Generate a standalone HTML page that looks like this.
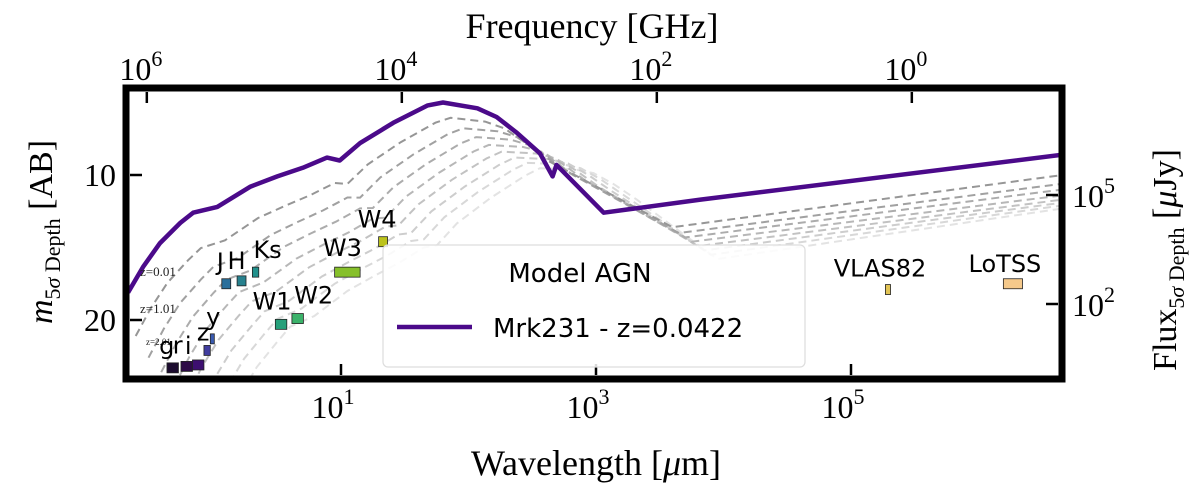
<!DOCTYPE html>
<html><head><meta charset="utf-8">
<style>
html,body{margin:0;padding:0;background:#fff;}
svg{display:block;}
.serif{font-family:"Liberation Serif","DejaVu Serif",serif;}
.sans{font-family:"DejaVu Sans","Liberation Sans",sans-serif;}
</style></head>
<body>
<svg id="chart" width="1200" height="502" viewBox="0 0 1200 502">
<defs><clipPath id="plotclip"><rect x="126" y="88" width="936" height="291"/></clipPath></defs>
<g id="grays" clip-path="url(#plotclip)"></g>
<g id="purple" clip-path="url(#plotclip)"></g>
<g id="zlabels" class="serif" font-size="13" fill="#222">
<text x="140" y="276">z=0.01</text>
<text x="140" y="313">z=1.01</text>
<text x="146" y="345" font-size="9">z=2.01</text>
</g>
<g id="filters"></g>
<rect x="126" y="88" width="936" height="291" fill="none" stroke="#000" stroke-width="7"/>
<g id="axes"></g>
<g>
<rect x="383" y="245" width="422" height="122" rx="5" fill="#fff" fill-opacity="0.85" stroke="#ddd" stroke-width="1.2"/>
<text x="580" y="282" text-anchor="middle" class="sans" font-size="26">Model AGN</text>
<line x1="397" y1="327" x2="472" y2="327" stroke="#4b0a8a" stroke-width="4.5"/>
<text x="493" y="337" class="sans" font-size="26">Mrk231 - z=0.0422</text>
</g>
<text x="592" y="38" text-anchor="middle" class="serif" font-size="36">Frequency [GHz]</text>
<text x="596" y="475" text-anchor="middle" class="serif" font-size="36">Wavelength [<tspan font-style="italic">μ</tspan>m]</text>
<text transform="translate(52,232) rotate(-90)" text-anchor="middle" class="serif" font-size="34"><tspan font-style="italic">m</tspan><tspan font-size="22" dy="8">5<tspan font-style="italic">σ</tspan> Depth</tspan><tspan dy="-8"> [AB]</tspan></text>
<text transform="translate(1176,260) rotate(-90)" text-anchor="middle" class="serif" font-size="34">Flux<tspan font-size="22" dy="8">5<tspan font-style="italic">σ</tspan> Depth</tspan><tspan dy="-8"> [<tspan font-style="italic">μ</tspan>Jy]</tspan></text>
</svg>
<script>
// ---- data ----
const sedLogLam = [-0.67,-0.55,-0.42,-0.26,-0.16,0.03,0.29,0.50,0.70,0.89,0.99,1.15,1.41,1.68,1.80,2.07,2.22,2.38,2.56,2.66,2.69,3.06,3.82,6.66];
const sedMag    = [18.1,16.3,14.7,13.3,12.6,12.2,10.8,10.1,9.5,8.8,9.0,7.8,6.4,5.2,5.0,5.4,6.0,7.1,8.5,10.1,9.3,12.6,11.7,8.6];
const grayShift = [0.06,0.16,0.26,0.36,0.46,0.56,0.66,0.76];
const grayDmLeft = [3.0,4.5,5.5,6.5,7.2,8.0,8.6,9.2];
const grayDmPeak = [0.5,1.0,1.5,1.9,2.3,2.6,2.9,3.2];
const grayKneeL = [3.6,3.65,3.7,3.75,3.8,3.85,3.9,3.95];
const grayKneeM = [13.6,14.0,14.3,14.6,14.9,15.2,15.5,15.8];
const grayTailM = [10.0,10.6,11.0,11.4,11.7,11.9,12.1,12.3];
const filterNames = ["g","r","i","z","y","J","H","Ks","W1","W2","W3","W4","VLAS82","LoTSS"];
const filterLogLam = [-0.32,-0.21,-0.12,-0.05,-0.01,0.10,0.22,0.33,0.53,0.66,1.05,1.33,5.29,6.27];
const filterMag = [23.3,23.2,23.1,22.1,21.3,17.5,17.3,16.7,20.3,19.9,16.7,14.6,17.9,17.5];
const filterColors = ["#1b0b2e","#2d0b46","#3d0f70","#413d9f","#3a5bb0","#2a6f9b","#27818e","#21918c","#25a07a","#3bb26a","#86c02a","#bcc31c","#e2c455","#f5c98b"];
const filterWidthDex = [0.09,0.09,0.09,0.05,0.03,0.07,0.07,0.05,0.09,0.09,0.2,0.07,0.04,0.15];
const botTicks = [1,3,5];
const topTicks = [6,4,2,0];
const leftTicks = [10,20];
const rightTicks = [5,2];

// ---- scales ----
const X = l => 341 + (l - 1) * 127.5;
const Y = m => 175 + (m - 10) * 14.5;
const ns = "http://www.w3.org/2000/svg";
function mk(tag, attrs, parent){const e=document.createElementNS(ns,tag);for(const k in attrs)e.setAttribute(k,attrs[k]);parent.appendChild(e);return e;}

// gray curves
const gG = document.getElementById('grays');
for(let i=grayShift.length-1;i>=0;i--){
  const pts=[];
  const n=19;
  for(let j=0;j<n;j++){
    const f=j/(n-1);
    const dm=grayDmLeft[i]*(1-f)+grayDmPeak[i]*f;
    pts.push([sedLogLam[j]+grayShift[i], sedMag[j]+dm]);
  }
  pts.push([grayKneeL[i], grayKneeM[i]]);
  pts.push([6.66, grayTailM[i]]);
  const d=pts.map((p,k)=>(k?'L':'M')+X(p[0]).toFixed(1)+','+Y(p[1]).toFixed(1)).join(' ');
  const c=Math.round(150+i*11);
  const p=mk('path',{d:d,fill:'none',stroke:`rgb(${c},${c},${c})`,'stroke-width':2,'stroke-dasharray':'8,5'},gG);
  
  
}
// purple
const pG=document.getElementById('purple');
const pd=sedLogLam.map((l,k)=>(k?'L':'M')+X(l).toFixed(1)+','+Y(sedMag[k]).toFixed(1)).join(' ');
const pp=mk('path',{d:pd,fill:'none',stroke:'#4b0a8a','stroke-width':4.5,'stroke-linejoin':'round'},pG);



// filters
const fG=document.getElementById('filters');
const labelOff={g:[-6,-14],r:[-9,-13],i:[-10,-11],z:[-4,-10],y:[1,-14],J:[-6,-14],H:[-5,-12],Ks:[12,-14],W1:[-9,-15],W2:[16,-15],W3:[-5,-16],W4:[-6,-14],VLAS82:[-8,-13],LoTSS:[-8,-12]};
filterNames.forEach((n,i)=>{
  const x1=X(filterLogLam[i]-filterWidthDex[i]/2), x2=X(filterLogLam[i]+filterWidthDex[i]/2), y=Y(filterMag[i]);
  const r=mk('rect',{x:x1,y:y-5,width:Math.max(4,x2-x1),height:10,fill:filterColors[i],stroke:'#222','stroke-width':0.8},fG);
  
  
  const t=mk('text',{x:X(filterLogLam[i])+labelOff[n][0],y:y+labelOff[n][1],'text-anchor':'middle',class:'sans','font-size':24},fG);
  t.textContent=n;
  
  
});

// axes
const aG=document.getElementById('axes');
botTicks.forEach(p=>{
  const x=X(p);
  mk('line',{x1:x,y1:375,x2:x,y2:364,stroke:'#000','stroke-width':2.5},aG);
  const t=mk('text',{x:x-8,y:418,'text-anchor':'middle',class:'serif','font-size':32},aG);
  t.innerHTML='10<tspan font-size="22" dy="-14">'+p+'</tspan>';
  
  
});
topTicks.forEach(p=>{
  const x=X(5.477-p);
  mk('line',{x1:x,y1:92,x2:x,y2:103,stroke:'#000','stroke-width':2.5},aG);
  const t=mk('text',{x:x-6,y:80,'text-anchor':'middle',class:'serif','font-size':32},aG);
  t.innerHTML='10<tspan font-size="22" dy="-14">'+p+'</tspan>';
  
  
});
leftTicks.forEach(m=>{
  const y=Y(m);
  mk('line',{x1:130,y1:y,x2:142,y2:y,stroke:'#000','stroke-width':2.5},aG);
  const t=mk('text',{x:116,y:y+11,'text-anchor':'end',class:'serif','font-size':32},aG);
  t.textContent=m;
  
  
});
rightTicks.forEach(p=>{
  const y= p===5?195:304;
  mk('line',{x1:1058,y1:y,x2:1046,y2:y,stroke:'#000','stroke-width':2.5},aG);
  const t=mk('text',{x:1072,y:y+12,class:'serif','font-size':32},aG);
  t.innerHTML='10<tspan font-size="22" dy="-14">'+p+'</tspan>';
  
  
});
</script>
</body></html>
